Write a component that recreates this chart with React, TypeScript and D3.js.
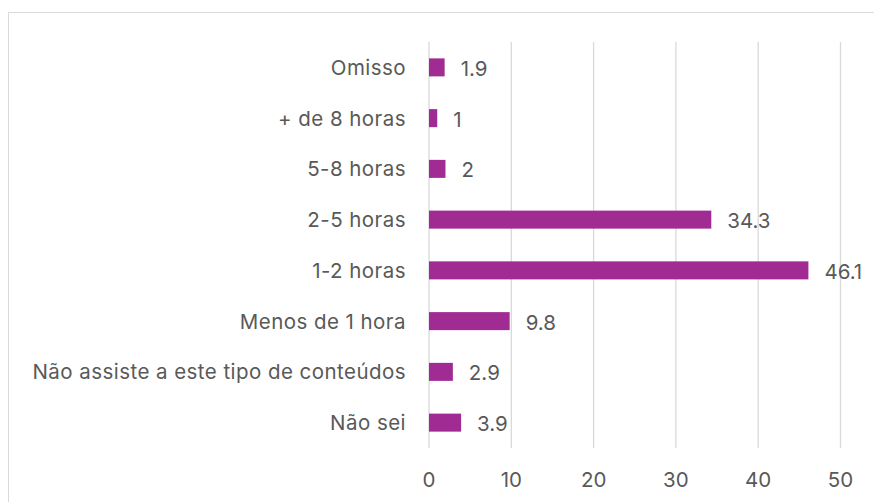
import * as d3 from "d3";

const categories = [
  "Omisso",
  "+ de 8 horas",
  "5-8 horas",
  "2-5 horas",
  "1-2 horas",
  "Menos de 1 hora",
  "Não assiste a este tipo de conteúdos",
  "Não sei",
];
const values = [1.9, 1, 2, 34.3, 46.1, 9.8, 2.9, 3.9];
const xTicks = [0, 10, 20, 30, 40, 50];

const WIDTH = 874;
const HEIGHT = 502;
const PLOT = { left: 429, right: 840.5, top: 42, bottom: 448 };
const BAR_COLOR = "#A02B93";
const TEXT_COLOR = "#595959";
const GRID_COLOR = "#D9D9D9";
const FONT = "Inter, 'Open Sans', sans-serif";
const FONT_SIZE = 20.5;

export default function App() {
  const x = d3.scaleLinear().domain([0, 50]).range([PLOT.left, PLOT.right]);
  const y = d3.scaleBand<string>().domain(categories).range([PLOT.top, PLOT.bottom]).paddingInner(0.645).paddingOuter(0.3225);

  return (
    <div style={{ position: "fixed", left: 0, top: 0 }}>
      <svg width={WIDTH} height={HEIGHT} viewBox={`0 0 ${WIDTH} ${HEIGHT}`} style={{ display: "block", background: "#fff" }}>
        <rect x="8.5" y="12.5" width={WIDTH} height={HEIGHT} fill="#fff" stroke="#D9D9D9" strokeWidth="1" />
        {xTicks.map((tick) => (
          <g key={tick}>
            <line x1={x(tick)} x2={x(tick)} y1={PLOT.top} y2={PLOT.bottom} stroke={GRID_COLOR} strokeWidth="1.3" />
            <text x={x(tick)} y={479} textAnchor="middle" dominantBaseline="central" fill={TEXT_COLOR} fontSize={FONT_SIZE} fontFamily={FONT}>
              {tick}
            </text>
          </g>
        ))}
        {categories.map((category, index) => {
          const cy = (y(category) ?? 0) + y.bandwidth() / 2;
          return (
            <g key={category}>
              <rect x={x(0)} y={y(category)} width={x(values[index]) - x(0)} height={y.bandwidth()} fill={BAR_COLOR} />
              <text x={PLOT.left - 23} y={cy} textAnchor="end" dominantBaseline="central" fill={TEXT_COLOR} fontSize={FONT_SIZE} letterSpacing="0.45" fontFamily={FONT}>
                {category}
              </text>
              <text x={x(values[index]) + 16} y={cy + 1} textAnchor="start" dominantBaseline="central" fill={TEXT_COLOR} fontSize={FONT_SIZE} fontFamily={FONT}>
                {values[index]}
              </text>
            </g>
          );
        })}
      </svg>
    </div>
  );
}
